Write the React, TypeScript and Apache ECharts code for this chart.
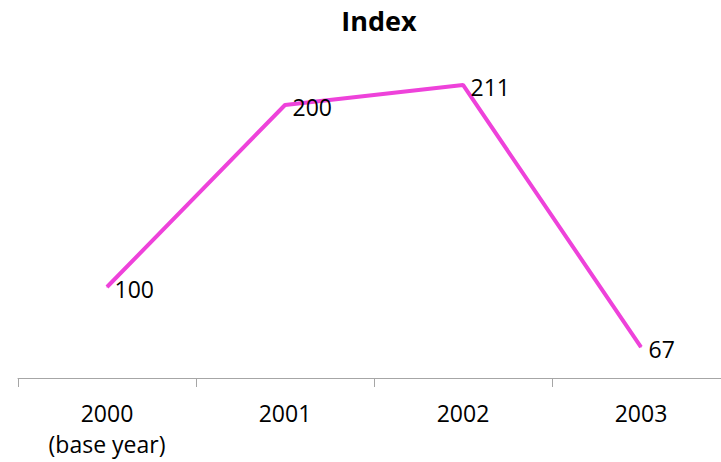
import React, { useEffect, useRef } from "react";
import * as echarts from "echarts";

const categories = ["2000\n(base year)", "2001", "2002", "2003"];
const indexValues = [100, 200, 211, 67];

export default function App() {
  const ref = useRef<HTMLDivElement>(null);
  useEffect(() => {
    if (!ref.current) return;
    const chart = echarts.init(ref.current, undefined, { renderer: "svg" });
    chart.setOption({
      animation: false,
      backgroundColor: "#ffffff",
      title: {
        text: "Index",
        left: 374,
        top: 2,
        textAlign: "center",
        textStyle: { fontFamily: "Open Sans", fontWeight: "bold", fontSize: 27, color: "#000" },
      },
      grid: { left: 18, right: 0, top: 14, bottom: 84, containLabel: false },
      xAxis: {
        type: "category",
        data: categories,
        boundaryGap: true,
        axisLine: { lineStyle: { color: "#a6a6a6", width: 1 } },
        axisTick: { show: true, length: 9, lineStyle: { color: "#a6a6a6" } },
        axisLabel: {
          fontFamily: "Open Sans",
          fontSize: 23,
          color: "#000",
          margin: 19,
          lineHeight: 31,
          interval: 0,
        },
      },
      yAxis: {
        type: "value",
        min: 50,
        max: 250,
        show: false,
        splitLine: { show: false },
      },
      series: [
        {
          type: "line",
          data: indexValues,
          symbol: "circle",
          symbolSize: 1,
          showSymbol: true,
          itemStyle: { color: "#EE42DA" },
          lineStyle: { color: "#EE42DA", width: 4 },
          label: {
            show: true,
            position: "right",
            distance: 7,
            offset: [0, 2],
            fontFamily: "Open Sans",
            fontSize: 23,
            color: "#000",
          },
        },
      ],
    });
    return () => chart.dispose();
  }, []);
  return (
    <div style={{ width: 721, height: 462, position: "absolute", left: 0, top: 0, overflow: "hidden", background: "#fff" }}>
      <div ref={ref} style={{ width: 730, height: 462 }} />
    </div>
  );
}
